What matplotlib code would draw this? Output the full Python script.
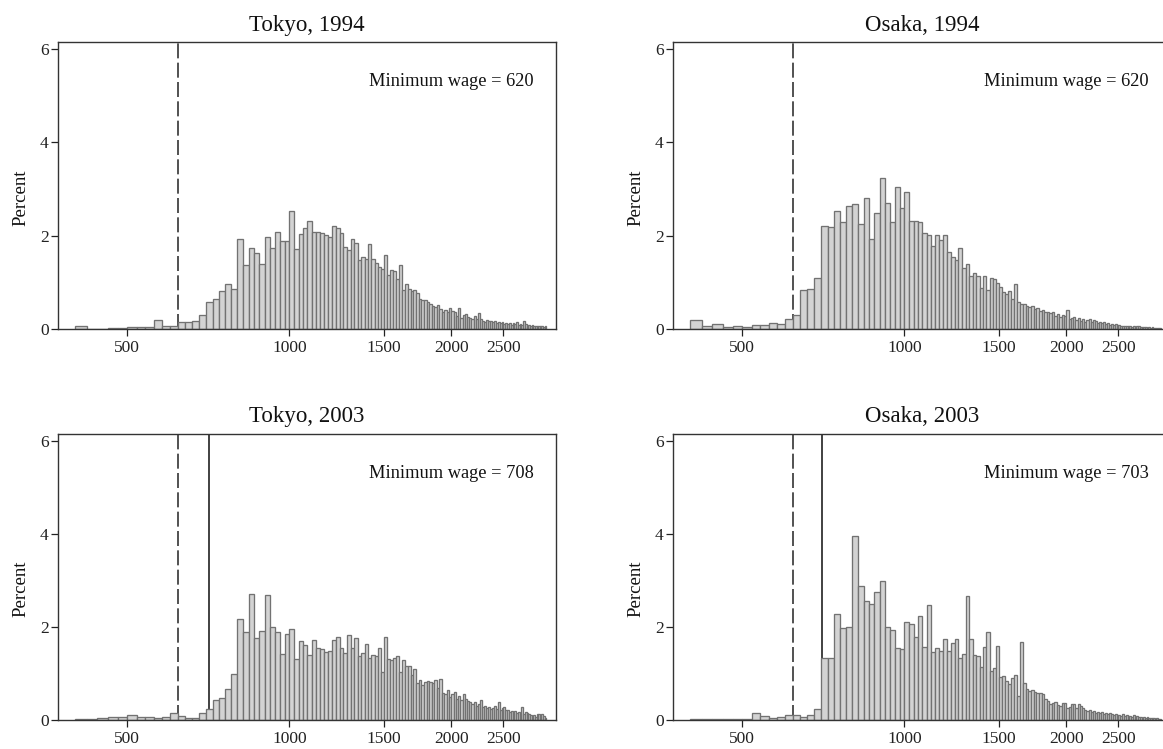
import matplotlib.pyplot as plt
import numpy as np
from matplotlib.ticker import FixedLocator, FixedFormatter, NullLocator

plt.rcParams['font.family'] = ['Liberation Serif', 'DejaVu Serif']

# hourly wage bins, 20 yen wide, 400 .. 3000
bin_left = np.arange(400, 3000, 20)
bin_width = 20

# percent of workers per bin (rows of 10 bins = 200 yen)
tokyo_1994 = [
    0.08, 0.01, 0.01, 0.03, 0.03, 0.04, 0.04, 0.04, 0.19, 0.06,
    0.08, 0.16, 0.16, 0.18, 0.31, 0.58, 0.64, 0.82, 0.96, 0.86,
    1.93, 1.38, 1.75, 1.64, 1.40, 1.97, 1.73, 2.08, 1.88, 1.88,
    2.54, 1.71, 2.04, 2.16, 2.32, 2.09, 2.08, 2.06, 2.01, 1.97,
    2.21, 2.16, 2.06, 1.76, 1.69, 1.93, 1.84, 1.49, 1.55, 1.50,
    1.82, 1.50, 1.41, 1.34, 1.30, 1.59, 1.16, 1.26, 1.25, 1.08,
    1.38, 0.84, 0.97, 0.86, 0.82, 0.84, 0.78, 0.64, 0.62, 0.63,
    0.58, 0.53, 0.50, 0.48, 0.52, 0.44, 0.38, 0.41, 0.38, 0.45,
    0.40, 0.36, 0.28, 0.45, 0.24, 0.30, 0.33, 0.26, 0.24, 0.22,
    0.28, 0.21, 0.34, 0.22, 0.18, 0.16, 0.19, 0.17, 0.18, 0.15,
    0.17, 0.14, 0.16, 0.13, 0.15, 0.12, 0.14, 0.11, 0.13, 0.10,
    0.13, 0.11, 0.15, 0.10, 0.12, 0.09, 0.17, 0.11, 0.08, 0.09,
    0.08, 0.09, 0.07, 0.08, 0.07, 0.06, 0.07, 0.06, 0.05, 0.08,
]

osaka_1994 = [
    0.19, 0.08, 0.11, 0.04, 0.06, 0.04, 0.10, 0.10, 0.14, 0.11,
    0.21, 0.31, 0.83, 0.86, 1.09, 2.20, 2.18, 2.54, 2.29, 2.64,
    2.69, 2.26, 2.82, 1.94, 2.49, 3.23, 2.70, 2.29, 3.05, 2.59,
    2.93, 2.32, 2.31, 2.29, 2.06, 2.01, 1.79, 2.01, 1.91, 2.01,
    1.66, 1.54, 1.49, 1.75, 1.32, 1.39, 1.13, 1.20, 1.13, 0.88,
    1.15, 0.84, 1.10, 1.07, 1.00, 0.90, 0.80, 0.76, 0.82, 0.65,
    0.96, 0.58, 0.55, 0.53, 0.50, 0.47, 0.50, 0.43, 0.45, 0.40,
    0.42, 0.36, 0.38, 0.34, 0.36, 0.28, 0.33, 0.26, 0.30, 0.28,
    0.42, 0.22, 0.25, 0.26, 0.19, 0.25, 0.18, 0.22, 0.16, 0.20,
    0.21, 0.16, 0.19, 0.17, 0.14, 0.16, 0.13, 0.15, 0.12, 0.14,
    0.10, 0.12, 0.09, 0.11, 0.10, 0.09, 0.08, 0.07, 0.08, 0.06,
    0.07, 0.06, 0.05, 0.06, 0.05, 0.07, 0.08, 0.05, 0.04, 0.05,
    0.04, 0.03, 0.04, 0.03, 0.04, 0.03, 0.03, 0.02, 0.03, 0.02,
]

tokyo_2003 = [
    0.03, 0.02, 0.05, 0.06, 0.06, 0.11, 0.06, 0.07, 0.04, 0.06,
    0.15, 0.09, 0.05, 0.05, 0.15, 0.23, 0.44, 0.48, 0.66, 0.99,
    2.16, 1.88, 2.71, 1.75, 1.91, 2.68, 1.99, 1.89, 1.42, 1.84,
    1.95, 1.31, 1.69, 1.60, 1.39, 1.71, 1.55, 1.53, 1.47, 1.49,
    1.71, 1.79, 1.55, 1.43, 1.83, 1.55, 1.76, 1.37, 1.44, 1.64,
    1.33, 1.39, 1.37, 1.55, 1.03, 1.79, 1.30, 1.28, 1.34, 1.38,
    1.04, 1.28, 1.17, 1.15, 0.96, 1.10, 0.80, 0.85, 0.75, 0.82,
    0.84, 0.82, 0.80, 0.86, 0.68, 0.87, 0.58, 0.55, 0.65, 0.50,
    0.55, 0.60, 0.45, 0.52, 0.42, 0.55, 0.45, 0.40, 0.38, 0.35,
    0.38, 0.30, 0.34, 0.44, 0.28, 0.30, 0.25, 0.28, 0.24, 0.26,
    0.30, 0.24, 0.38, 0.22, 0.25, 0.27, 0.21, 0.22, 0.18, 0.20,
    0.17, 0.20, 0.15, 0.17, 0.15, 0.27, 0.13, 0.17, 0.14, 0.12,
    0.11, 0.09, 0.10, 0.07, 0.12, 0.13, 0.11, 0.12, 0.09, 0.05,
]

osaka_2003 = [
    0.02, 0.02, 0.02, 0.02, 0.02, 0.03, 0.16, 0.09, 0.04, 0.07,
    0.11, 0.11, 0.06, 0.10, 0.23, 1.34, 1.34, 2.28, 1.98, 1.99,
    3.95, 2.88, 2.56, 2.48, 2.75, 2.98, 1.99, 1.94, 1.54, 1.53,
    2.10, 2.06, 1.79, 2.24, 1.57, 2.46, 1.46, 1.55, 1.49, 1.73,
    1.48, 1.66, 1.74, 1.34, 1.42, 2.66, 1.73, 1.39, 1.37, 1.14,
    1.57, 1.89, 1.06, 1.11, 1.58, 0.93, 0.95, 0.83, 0.78, 0.90,
    0.97, 0.52, 1.67, 0.80, 0.66, 0.62, 0.65, 0.60, 0.58, 0.58,
    0.55, 0.45, 0.40, 0.35, 0.37, 0.38, 0.32, 0.30, 0.36, 0.36,
    0.25, 0.28, 0.35, 0.34, 0.25, 0.35, 0.30, 0.25, 0.22, 0.20,
    0.22, 0.18, 0.20, 0.16, 0.18, 0.14, 0.17, 0.13, 0.16, 0.12,
    0.14, 0.12, 0.11, 0.13, 0.10, 0.11, 0.09, 0.12, 0.08, 0.10,
    0.08, 0.09, 0.07, 0.10, 0.07, 0.08, 0.06, 0.07, 0.05, 0.06,
    0.05, 0.06, 0.04, 0.05, 0.04, 0.05, 0.03, 0.04, 0.03, 0.02,
]

titles = ['Tokyo, 1994', 'Osaka, 1994', 'Tokyo, 2003', 'Osaka, 2003']
series = [tokyo_1994, osaka_1994, tokyo_2003, osaka_2003]
min_wage = [620, 620, 708, 703]
old_min_wage = 620

xticks = [500, 1000, 1500, 2000, 2500]
xtick_labels = ['500', '1000', '1500', '2000', '2500']

fig = plt.figure(figsize=(11.63, 7.49), dpi=100)

# axes rects in figure fraction (Osaka panels run past the right edge)
rects = [
    [0.0501, 0.5604, 0.4277, 0.3836],
    [0.5789, 0.5604, 0.4277, 0.3836],
    [0.0501, 0.0387, 0.4277, 0.3825],
    [0.5789, 0.0387, 0.4277, 0.3825],
]

dark = '#333333'

for k in range(4):
    ax = fig.add_axes(rects[k])
    ax.set_xscale('log')
    ax.bar(bin_left, series[k], width=bin_width, align='edge',
           color='#d3d3d3', edgecolor='#727272', linewidth=0.95, zorder=2)
    ax.axvline(old_min_wage, color=dark, lw=1.2, dashes=(9, 2.6), zorder=1)
    if min_wage[k] != old_min_wage:
        ax.axvline(min_wage[k], color=dark, lw=1.3, zorder=1)

    ax.set_xlim(372, 3126)
    ax.set_ylim(0, 6.15)
    ax.xaxis.set_major_locator(FixedLocator(xticks))
    ax.xaxis.set_major_formatter(FixedFormatter(xtick_labels))
    ax.xaxis.set_minor_locator(NullLocator())
    ax.set_yticks([0, 2, 4, 6])

    ax.tick_params(axis='x', length=5, width=0.9, pad=3, labelsize=12.5,
                   colors='#222222')
    ax.tick_params(axis='y', length=5, width=0.9, pad=2, labelsize=12.5,
                   colors='#222222')
    for sp in ax.spines.values():
        sp.set_color(dark)
        sp.set_linewidth(1.0)

    ax.set_title(titles[k], fontsize=16.5, pad=8, color='#111111')
    ax.set_ylabel('Percent', fontsize=13.5, color='#111111')
    ax.yaxis.set_label_coords(-0.057, 0.457)
    ax.text(2850, 5.3, 'Minimum wage = %d' % min_wage[k], ha='right',
            va='center', fontsize=13.2, color='#111111')

plt.savefig('out.png', dpi=100)
